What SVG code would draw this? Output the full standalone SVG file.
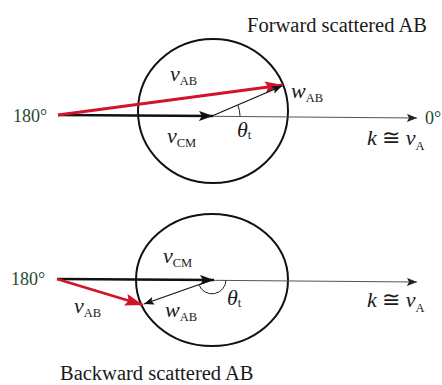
<svg xmlns="http://www.w3.org/2000/svg" width="442" height="385" viewBox="0 0 442 385">
<style>
text{font-family:"Liberation Serif","Times New Roman",serif;fill:#1a1a1a}
.title{font-size:20.5px}
.deg{font-size:18px;fill:#1f4a2c}
.lab{font-size:22px}
.it{font-style:italic}
.sub{font-size:12.5px;font-style:normal}
.circ{fill:none;stroke:#111;stroke-width:2}
.axis{stroke:#555;stroke-width:1.2;fill:none}
.vcm{stroke:#111;stroke-width:2.6;fill:none}
.red{stroke:#d0142c;stroke-width:2.8;fill:none}
.thin{stroke:#111;stroke-width:1.2;fill:none}
.arc{stroke:#222;stroke-width:1;fill:none}
</style>
<defs>
<marker id="hAxis" markerUnits="userSpaceOnUse" markerWidth="12" markerHeight="10" refX="10" refY="4" orient="auto"><path d="M0,0 L10,4 L0,8 L2,4 Z" fill="#222"/></marker>
<marker id="hBlack" markerUnits="userSpaceOnUse" markerWidth="16" markerHeight="12" refX="14" refY="5" orient="auto"><path d="M0,0 L14,5 L0,10 L3,5 Z" fill="#111"/></marker>
<marker id="hRed" markerUnits="userSpaceOnUse" markerWidth="20" markerHeight="14" refX="18" refY="6" orient="auto"><path d="M0,0 L18,6 L0,12 L3,6 Z" fill="#d0142c"/></marker>
<marker id="hThin" markerUnits="userSpaceOnUse" markerWidth="12" markerHeight="10" refX="10" refY="4" orient="auto"><path d="M0,0 L10,4 L0,8 L2,4 Z" fill="#111"/></marker>
</defs>

<g id="forward-sphere"><ellipse class="circ" cx="213" cy="111" rx="75" ry="72"/></g>
<g id="backward-sphere"><ellipse class="circ" cx="212" cy="280" rx="76" ry="66"/></g>

<g id="connectors">
  <line class="axis" x1="58" y1="115" x2="417" y2="118" marker-end="url(#hAxis)"/>
  <line class="vcm" x1="58" y1="115" x2="213" y2="116" marker-end="url(#hBlack)"/>
  <line class="red" x1="58" y1="115" x2="283" y2="85" marker-end="url(#hRed)"/>
  <line class="thin" x1="212" y1="116" x2="282" y2="86" marker-end="url(#hThin)"/>
  <path class="arc" d="M240,116 A28,28 0 0 0 237.8,105.1"/>

  <line class="axis" x1="57" y1="279" x2="417" y2="282" marker-end="url(#hAxis)"/>
  <line class="vcm" x1="57" y1="279" x2="214" y2="280" marker-end="url(#hBlack)"/>
  <line class="red" x1="57" y1="279" x2="143" y2="305" marker-end="url(#hRed)"/>
  <line class="thin" x1="212" y1="280" x2="144" y2="304" marker-end="url(#hThin)"/>
  <path class="arc" d="M226,280 A14,14 0 0 1 199,285"/>
</g>

<g id="forward-labels">
  <text class="title" x="247" y="32">Forward scattered AB</text>
  <text class="deg" x="13" y="122">180°</text>
  <text class="deg" x="425" y="124">0°</text>
  <text class="lab" x="170" y="81"><tspan class="it">v</tspan><tspan class="sub" dy="4">AB</tspan></text>
  <text class="lab" x="291" y="98"><tspan class="it">w</tspan><tspan class="sub" dy="4">AB</tspan></text>
  <text class="lab" x="237" y="137"><tspan class="it">θ</tspan><tspan class="sub" dy="2">t</tspan></text>
  <text class="lab" x="167" y="143"><tspan class="it">v</tspan><tspan class="sub" dy="4">CM</tspan></text>
  <text class="lab" x="367" y="145"><tspan class="it">k</tspan> ≅ <tspan class="it">v</tspan><tspan class="sub" dy="5">A</tspan></text>
</g>

<g id="backward-labels">
  <text class="deg" x="11" y="285">180°</text>
  <text class="lab" x="163" y="263"><tspan class="it">v</tspan><tspan class="sub" dy="4">CM</tspan></text>
  <text class="lab" x="74" y="313"><tspan class="it">v</tspan><tspan class="sub" dy="4">AB</tspan></text>
  <text class="lab" x="165" y="317"><tspan class="it">w</tspan><tspan class="sub" dy="4">AB</tspan></text>
  <text class="lab" x="227" y="305"><tspan class="it">θ</tspan><tspan class="sub" dy="2">t</tspan></text>
  <text class="lab" x="367" y="307"><tspan class="it">k</tspan> ≅ <tspan class="it">v</tspan><tspan class="sub" dy="5">A</tspan></text>
  <text class="title" x="60" y="380">Backward scattered AB</text>
</g>
</svg>
